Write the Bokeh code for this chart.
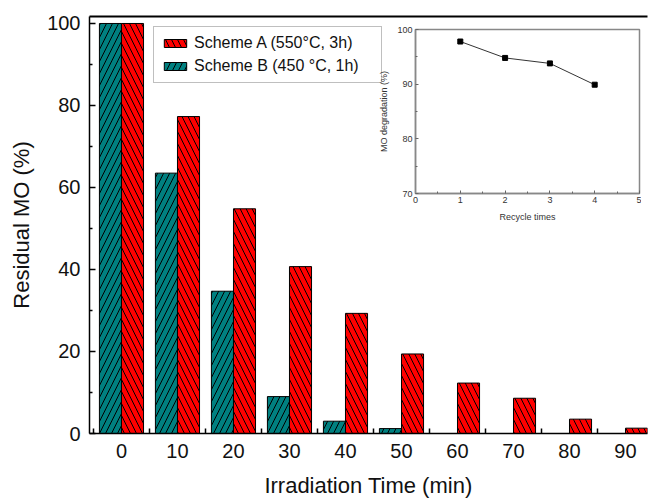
from bokeh.plotting import figure
from bokeh.models import (ColumnDataSource, FixedTicker, LinearAxis, Legend, LegendItem,
                          Range1d, GridBox)
from bokeh.transform import dodge
from bokeh.embed import file_html
from bokeh.resources import INLINE

# ---- data ----
time_min = [0, 10, 20, 30, 40, 50, 60, 70, 80, 90]
scheme_a = [100, 77.3, 54.8, 40.7, 29.3, 19.4, 12.3, 8.6, 3.5, 1.3]
scheme_b = [100, 63.5, 34.7, 9.0, 3.0, 1.2, 0, 0, 0, 0]
label_a = "Scheme A (550\u00b0C, 3h)"
label_b = "Scheme B (450 \u00b0C, 1h)"

recycle = [1, 2, 3, 4]
degradation = [97.8, 94.8, 93.8, 89.9]

FONT = "Liberation Sans"
BORDERS = dict(min_border_left=89, min_border_top=16, min_border_right=2, min_border_bottom=68)

src = ColumnDataSource(dict(t=time_min, a=scheme_a, b=scheme_b))

p = figure(width=649, height=501, output_backend="svg", toolbar_location=None,
           x_range=Range1d(-5.71, 93.93), y_range=Range1d(0, 101.7), **BORDERS)
p.outline_line_color = None
p.grid.visible = False
p.background_fill_color = "white"
p.border_fill_color = "white"

rb = p.vbar(x=dodge("t", -1.97, range=p.x_range), top="b", width=3.94, source=src,
            fill_color="#008080", line_color="black", line_width=1,
            hatch_pattern="/", hatch_color="black", hatch_scale=12, hatch_weight=1)
ra = p.vbar(x=dodge("t", 1.97, range=p.x_range), top="a", width=3.94, source=src,
            fill_color="#ff0000", line_color="black", line_width=1,
            hatch_pattern="\\", hatch_color="black", hatch_scale=12, hatch_weight=1)

xa = p.xaxis[0]
xa.ticker = FixedTicker(ticks=time_min, minor_ticks=[t - 5 for t in time_min] + [time_min[-1] + 5])
xa.major_tick_in = 0
xa.major_tick_out = 0
xa.minor_tick_in = 5
xa.minor_tick_out = 0
xa.axis_label = "Irradiation Time (min)"

ya = p.yaxis[0]
ya.ticker = FixedTicker(ticks=[0, 20, 40, 60, 80, 100], minor_ticks=[10, 30, 50, 70, 90])
ya.major_tick_in = 6
ya.major_tick_out = 0
ya.minor_tick_in = 3
ya.minor_tick_out = 0
ya.axis_label = "Residual MO (%)"

for ax in (xa, ya):
    ax.axis_line_width = 1.5
    ax.major_tick_line_width = 1.5
    ax.minor_tick_line_width = 1.5
    ax.major_label_text_font = FONT
    ax.major_label_text_font_size = "20px"
    ax.major_label_text_color = "#111111"
    ax.axis_label_text_font = FONT
    ax.axis_label_text_font_size = "22px"
    ax.axis_label_text_font_style = "normal"
    ax.axis_label_text_color = "#111111"
xa.major_label_standoff = 10
xa.axis_label_standoff = 12
ya.major_label_standoff = 9
ya.axis_label_standoff = 10

top_ax = LinearAxis(ticker=FixedTicker(ticks=[]), major_tick_in=0, major_tick_out=0,
                    minor_tick_in=0, minor_tick_out=0, axis_line_width=2,
                    major_label_text_font_size="0px")
p.add_layout(top_ax, "above")

legend = Legend(items=[LegendItem(label=label_a, renderers=[ra]),
                       LegendItem(label=label_b, renderers=[rb])],
                location=(64, 350))
legend.label_text_font = FONT
legend.label_text_font_size = "16px"
legend.label_text_color = "#111111"
legend.glyph_width = 28
legend.glyph_height = 10
legend.label_height = 17
legend.label_width = 180
legend.spacing = 5
legend.padding = 7
legend.label_standoff = 5
legend.border_line_color = "#808080"
legend.border_line_width = 1
legend.background_fill_color = "white"
legend.background_fill_alpha = 1
p.add_layout(legend)

# ---- inset ----
ins = figure(width=315, height=248, output_backend="svg", toolbar_location=None,
             x_range=Range1d(0, 5), y_range=Range1d(70, 100), **BORDERS)
ins.grid.visible = False
ins.outline_line_color = "#888888"
ins.outline_line_width = 1.5
ins.background_fill_color = "white"
ins.border_fill_alpha = 0
ins.line(recycle, degradation, line_color="#333333", line_width=1)
ins.scatter(recycle, degradation, marker="square", size=5, fill_color="black", line_color="black")

ixa = ins.xaxis[0]
ixa.ticker = FixedTicker(ticks=[0, 1, 2, 3, 4, 5], minor_ticks=[0.5, 1.5, 2.5, 3.5, 4.5])
ixa.axis_label = "Recycle times"
iya = ins.yaxis[0]
iya.ticker = FixedTicker(ticks=[70, 80, 90, 100], minor_ticks=[75, 85, 95])
iya.axis_label = "MO degradation (%)"
for ax in (ixa, iya):
    ax.axis_line_color = "#888888"
    ax.axis_line_width = 1.5
    ax.major_tick_in = 3
    ax.major_tick_out = 0
    ax.minor_tick_in = 2
    ax.minor_tick_out = 0
    ax.major_tick_line_color = "#666666"
    ax.minor_tick_line_color = "#666666"
    ax.major_label_text_font = FONT
    ax.major_label_text_font_size = "9px"
    ax.major_label_text_color = "#333333"
    ax.axis_label_text_font = FONT
    ax.axis_label_text_font_size = "9px"
    ax.axis_label_text_font_style = "normal"
    ax.axis_label_text_color = "#333333"
ixa.major_label_standoff = 3
ixa.axis_label_standoff = 6
iya.major_label_standoff = 3
iya.axis_label_standoff = 5

ins.margin = (13, 0, 0, 326)

layout = GridBox(children=[(p, 0, 0), (ins, 0, 0)])

open("out.html", "w").write(file_html(layout, INLINE))
